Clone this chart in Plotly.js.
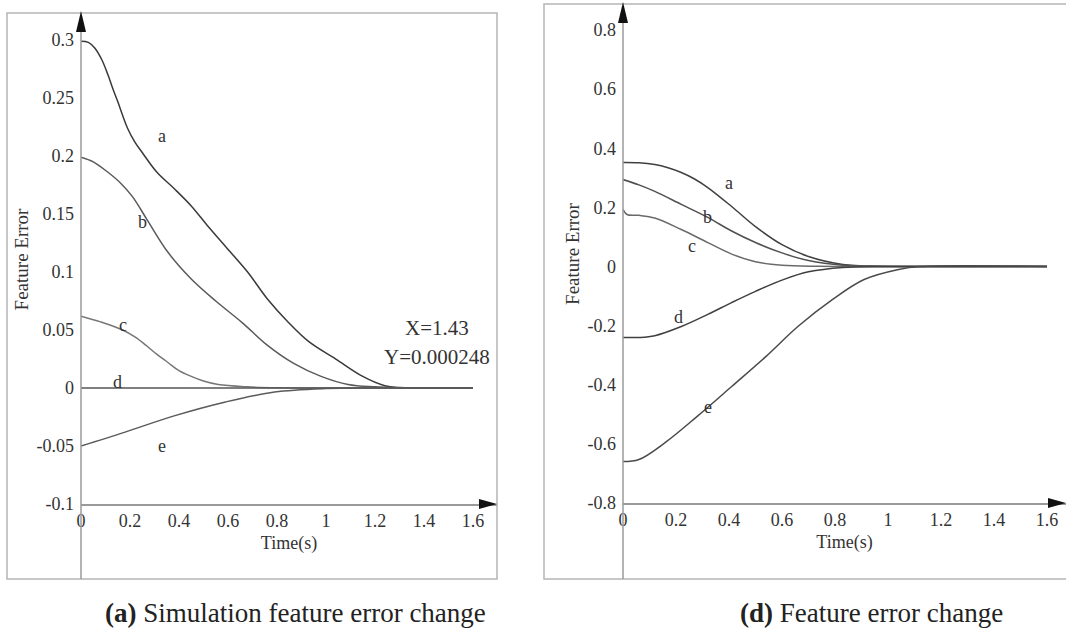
<!DOCTYPE html>
<html>
<head>
<meta charset="utf-8">
<script src="https://cdn.plot.ly/plotly-3.0.1.min.js"></script>
<style>html,body{margin:0;padding:0;background:#fff;}#chart{width:1066px;height:628px;}</style>
</head>
<body>
<div id="chart"></div>
<script>
// ---------- Panel (a): Simulation feature error change ----------
const aT_a = [0, 0.03, 0.057, 0.085, 0.11, 0.13, 0.15, 0.17, 0.19, 0.22, 0.25, 0.31, 0.38, 0.45, 0.52, 0.59, 0.68, 0.76, 0.845, 0.93, 1.04, 1.15, 1.24, 1.3, 1.43, 1.6];
const aY_a = [0.299, 0.298, 0.293, 0.283, 0.270, 0.258, 0.247, 0.235, 0.224, 0.212, 0.203, 0.186, 0.172, 0.157, 0.139, 0.122, 0.100, 0.077, 0.057, 0.040, 0.025, 0.010, 0.002, 0.0004, 0.000248, 0.0002];
const aT_b = [0, 0.05, 0.11, 0.16, 0.21, 0.27, 0.355, 0.45, 0.55, 0.66, 0.76, 0.87, 0.98, 1.09, 1.2, 1.3, 1.6];
const aY_b = [0.199, 0.195, 0.186, 0.177, 0.165, 0.145, 0.117, 0.094, 0.075, 0.056, 0.037, 0.021, 0.010, 0.003, 0.001, 0.0003, 0.0002];
const aT_c = [0, 0.08, 0.17, 0.22, 0.27, 0.31, 0.355, 0.40, 0.45, 0.50, 0.56, 0.68, 0.8, 1.0, 1.6];
const aY_c = [0.062, 0.057, 0.050, 0.044, 0.036, 0.029, 0.022, 0.015, 0.010, 0.006, 0.003, 0.001, 0.0002, 0.0001, 0.0001];
const aT_d = [0, 0.4, 0.8, 1.2, 1.6];
const aY_d = [0, 0, 0, 0, 0];
const aT_e = [0, 0.18, 0.38, 0.59, 0.79, 1.0, 1.2, 1.6];
const aY_e = [-0.050, -0.038, -0.024, -0.012, -0.0035, -0.0005, 0, 0];

// ---------- Panel (d): Feature error change ----------
const dT_a = [0, 0.06, 0.12, 0.17, 0.22, 0.27, 0.32, 0.41, 0.50, 0.60, 0.70, 0.83, 0.98, 1.1, 1.6];
const dY_a = [0.352, 0.351, 0.345, 0.334, 0.318, 0.296, 0.267, 0.203, 0.135, 0.074, 0.034, 0.007, 0.001, 0, 0];
const dT_b = [0, 0.06, 0.12, 0.22, 0.32, 0.41, 0.50, 0.60, 0.70, 0.83, 0.98, 1.1, 1.6];
const dY_b = [0.294, 0.276, 0.254, 0.210, 0.166, 0.120, 0.081, 0.046, 0.020, 0.004, 0.0005, 0, 0];
const dT_c = [0, 0.015, 0.06, 0.12, 0.22, 0.32, 0.41, 0.50, 0.60, 0.74, 1.1, 1.6];
const dY_c = [0.193, 0.176, 0.173, 0.164, 0.125, 0.081, 0.042, 0.016, 0.004, 0.0005, 0, 0];
const dT_d = [0, 0.06, 0.12, 0.22, 0.32, 0.41, 0.50, 0.60, 0.70, 0.83, 0.98, 1.1, 1.6];
const dY_d = [-0.240, -0.240, -0.234, -0.203, -0.162, -0.122, -0.084, -0.046, -0.018, -0.003, -0.0005, 0, 0];
const dT_e = [0, 0.06, 0.16, 0.28, 0.41, 0.54, 0.66, 0.79, 0.91, 1.04, 1.12, 1.6];
const dY_e = [-0.660, -0.653, -0.595, -0.507, -0.406, -0.304, -0.203, -0.112, -0.044, -0.010, 0, 0];

// ---------- Tick labels ----------
const xTickVals = [0, 0.2, 0.4, 0.6, 0.8, 1, 1.2, 1.4, 1.6];
const xTickText = ['0', '0.2', '0.4', '0.6', '0.8', '1', '1.2', '1.4', '1.6'];
const aYTickVals = [-0.1, -0.05, 0, 0.05, 0.1, 0.15, 0.2, 0.25, 0.3];
const aYTickText = ['-0.1', '-0.05', '0', '0.05', '0.1', '0.15', '0.2', '0.25', '0.3'];
const dYTickVals = [-0.8, -0.6, -0.4, -0.2, 0, 0.2, 0.4, 0.6, 0.8];
const dYTickText = ['-0.8', '-0.6', '-0.4', '-0.2', '0', '0.2', '0.4', '0.6', '0.8'];

// ---------- Curve labels ----------
const aLabels = ['a', 'b', 'c', 'd', 'e'];
const aLabelT = [0.33, 0.25, 0.17, 0.15, 0.33];
const aLabelY = [0.217, 0.143, 0.054, 0.005, -0.050];
const dLabels = ['a', 'b', 'c', 'd', 'e'];
const dLabelT = [0.40, 0.32, 0.26, 0.21, 0.32];
const dLabelY = [0.284, 0.166, 0.068, -0.172, -0.474];

const W = 1066, H = 628;
const PX = p => p / W;
const PY = p => 1 - p / H;
const FONT = 'Liberation Serif';

const aColors = ['#3a3a3a', '#5a5a5a', '#767676', '#555555', '#5a5a5a'];
const dColors = ['#404040', '#505050', '#6a6a6a', '#404040', '#4a4a4a'];

const aSeries = [[aT_a, aY_a], [aT_b, aY_b], [aT_c, aY_c], [aT_d, aY_d], [aT_e, aY_e]];
const dSeries = [[dT_a, dY_a], [dT_b, dY_b], [dT_c, dY_c], [dT_d, dY_d], [dT_e, dY_e]];

const traces = [];
aSeries.forEach((s, i) => traces.push({
  x: s[0], y: s[1], type: 'scatter', mode: 'lines', name: aLabels[i],
  line: {color: aColors[i], width: 1.5, shape: 'spline', smoothing: 1},
  xaxis: 'x', yaxis: 'y', hoverinfo: 'skip'
}));
dSeries.forEach((s, i) => traces.push({
  x: s[0], y: s[1], type: 'scatter', mode: 'lines', name: dLabels[i],
  line: {color: dColors[i], width: 1.5, shape: 'spline', smoothing: 1},
  xaxis: 'x2', yaxis: 'y2', hoverinfo: 'skip'
}));

function ann(o) { return Object.assign({showarrow: false, xanchor: 'center', yanchor: 'middle'}, o); }
const annotations = [];
aLabels.forEach((l, i) => annotations.push(ann({x: aLabelT[i], y: aLabelY[i], xref: 'x', yref: 'y', text: l, font: {family: FONT, size: 18, color: '#333'}})));
dLabels.forEach((l, i) => annotations.push(ann({x: dLabelT[i], y: dLabelY[i], xref: 'x2', yref: 'y2', text: l, font: {family: FONT, size: 18, color: '#333'}})));
annotations.push(ann({x: PX(437), y: PY(328), xref: 'paper', yref: 'paper', text: 'X=1.43', font: {family: FONT, size: 21, color: '#333'}}));
annotations.push(ann({x: PX(437), y: PY(357), xref: 'paper', yref: 'paper', text: 'Y=0.000248', font: {family: FONT, size: 21, color: '#333'}}));
annotations.push(ann({x: PX(295), y: PY(613), xref: 'paper', yref: 'paper', text: '<b>(a)</b> Simulation feature error change', font: {family: FONT, size: 27, color: '#222'}}));
annotations.push(ann({x: PX(871), y: PY(613), xref: 'paper', yref: 'paper', text: '<b>(d)</b> Feature error change', font: {family: FONT, size: 27, color: '#222'}}));

const gray = '#9a9a9a';
const frame = '#b5b5b5';
function tri(x1, y1, x2, y2, x3, y3) {
  return 'M ' + PX(x1) + ' ' + PY(y1) + ' L ' + PX(x2) + ' ' + PY(y2) + ' L ' + PX(x3) + ' ' + PY(y3) + ' Z';
}
const shapes = [
  {type: 'rect', xref: 'paper', yref: 'paper', x0: PX(7), y0: PY(579), x1: PX(497), y1: PY(13), line: {color: frame, width: 1.5}},
  {type: 'rect', xref: 'paper', yref: 'paper', x0: PX(544), y0: PY(579), x1: PX(1070), y1: PY(4), line: {color: frame, width: 1.5}},
  {type: 'line', xref: 'paper', yref: 'paper', x0: PX(81), y0: PY(579), x1: PX(81), y1: PY(20), line: {color: gray, width: 1.5}},
  {type: 'line', xref: 'paper', yref: 'paper', x0: PX(623), y0: PY(579), x1: PX(623), y1: PY(10), line: {color: gray, width: 1.5}},
  {type: 'path', xref: 'paper', yref: 'paper', path: tri(81, 11, 76, 32, 86, 32), fillcolor: '#111', line: {width: 0}},
  {type: 'path', xref: 'paper', yref: 'paper', path: tri(497, 504, 479, 499, 479, 509), fillcolor: '#111', line: {width: 0}},
  {type: 'path', xref: 'paper', yref: 'paper', path: tri(623, 2, 618, 23, 628, 23), fillcolor: '#111', line: {width: 0}},
  {type: 'path', xref: 'paper', yref: 'paper', path: tri(1066, 503, 1048, 498, 1048, 508), fillcolor: '#111', line: {width: 0}}
];

const layout = {
  width: W, height: H,
  margin: {l: 0, r: 0, t: 0, b: 0},
  font: {family: FONT, size: 18, color: '#333'},
  paper_bgcolor: '#fff', plot_bgcolor: 'rgba(0,0,0,0)',
  showlegend: false,
  xaxis: {domain: [PX(81), PX(497)], range: [0, 1.698], anchor: 'y',
    tickvals: xTickVals, ticktext: xTickText, tickfont: {family: FONT, size: 18, color: '#333'}, ticks: '',
    showgrid: false, zeroline: false, showline: true, linecolor: gray, linewidth: 1.5,
    title: {text: 'Time(s)', font: {family: FONT, size: 18, color: '#333'}, standoff: 6}},
  yaxis: {domain: [PY(504), PY(15)], range: [-0.1, 0.3216], anchor: 'x',
    tickvals: aYTickVals, ticktext: aYTickText, tickfont: {family: FONT, size: 18, color: '#333'}, ticks: '',
    showgrid: false, zeroline: false, showline: false, ticklabelstandoff: 6,
    title: {text: 'Feature Error', font: {family: FONT, size: 19, color: '#333'}, standoff: 2}},
  xaxis2: {domain: [PX(623), 1], range: [0, 1.672], anchor: 'y2',
    tickvals: xTickVals, ticktext: xTickText, tickfont: {family: FONT, size: 18, color: '#333'}, ticks: '',
    showgrid: false, zeroline: false, showline: true, linecolor: gray, linewidth: 1.5,
    title: {text: 'Time(s)', font: {family: FONT, size: 18, color: '#333'}, standoff: 6}},
  yaxis2: {domain: [PY(503), PY(5)], range: [-0.8, 0.8846], anchor: 'x2',
    tickvals: dYTickVals, ticktext: dYTickText, tickfont: {family: FONT, size: 18, color: '#333'}, ticks: '',
    showgrid: false, zeroline: false, showline: false, ticklabelstandoff: 6,
    title: {text: 'Feature Error', font: {family: FONT, size: 19, color: '#333'}, standoff: 2}},
  annotations: annotations,
  shapes: shapes
};

Plotly.newPlot('chart', traces, layout, {staticPlot: true, displayModeBar: false});
</script>
</body>
</html>
